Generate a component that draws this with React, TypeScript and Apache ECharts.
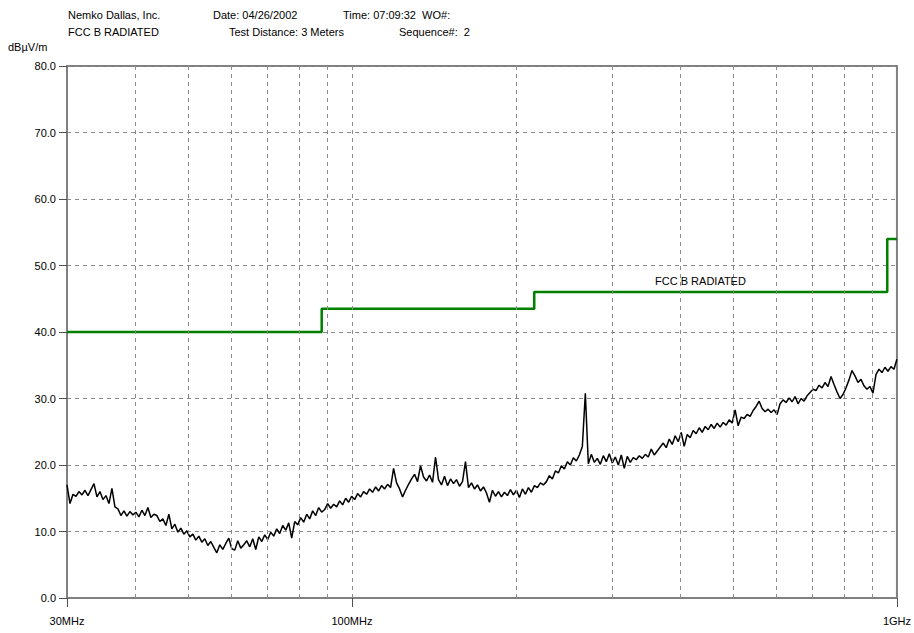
import React, { useEffect, useRef } from "react";
import * as echarts from "echarts";

// Sweep range of the receiver (MHz)
const sweepStartMHz = 30;
const sweepStopMHz = 1000;

// Measured peak levels (dBµV/m), one per sweep point, log-spaced from 30 MHz to 1 GHz
const traceLevels: number[] = [
  17.0, 14.2, 15.6, 15.3, 16.0, 15.5, 16.2, 15.4, 16.3, 17.2,
  15.2, 16.0, 14.8, 15.4, 14.2, 16.5, 13.7, 13.4, 12.4, 13.1,
  12.3, 13.0, 12.5, 12.9, 12.2, 13.2, 12.4, 13.6, 12.1, 12.6,
  12.4, 11.5, 11.9, 10.9, 12.6, 10.4, 11.1, 9.9, 10.5, 9.6,
  10.1, 9.2, 9.6, 8.7, 9.3, 8.4, 8.9, 7.9, 8.5, 7.6,
  6.8, 8.0, 7.3, 8.2, 9.0, 7.4, 7.2, 8.6, 7.5, 8.0,
  8.6, 7.7, 8.9, 7.3, 9.2, 8.5, 9.5, 8.8, 9.9, 9.3,
  10.4, 9.7, 10.9, 10.2, 11.3, 9.0, 11.5, 11.0, 12.1, 11.4,
  12.6, 11.9, 13.1, 12.4, 13.6, 12.9, 13.3, 14.2, 13.5, 14.1,
  13.7, 14.6, 14.0, 15.0, 14.4, 15.3, 14.8, 15.7, 15.2, 16.0,
  15.6, 16.4, 15.9, 16.7, 16.1, 16.9, 16.4, 17.1, 16.6, 19.5,
  17.3, 16.4, 15.2, 16.2, 17.1, 17.9, 18.6, 17.5, 19.9, 18.2,
  17.6, 18.5, 17.4, 21.2, 17.8, 17.0, 18.3, 16.9, 17.9, 17.2,
  17.8, 16.8, 17.5, 20.5, 16.6, 17.3, 16.4, 17.0, 16.1, 16.7,
  15.8, 14.4, 16.2, 15.3, 16.0, 15.2, 15.9, 15.4, 16.3, 15.5,
  16.2, 15.1, 16.4, 15.6, 16.6, 15.9, 16.9, 16.6, 17.3, 17.0,
  17.5, 18.4, 17.9, 19.1, 18.8, 19.9, 19.4, 20.5, 20.0, 21.1,
  20.6, 21.5, 22.8, 30.8, 20.2, 21.6, 20.4, 21.0, 20.1, 21.4,
  20.5, 21.7, 20.3, 21.2, 20.0, 21.5, 19.5, 21.3, 20.4, 21.1,
  20.8, 21.4, 21.0, 21.6, 21.2, 22.4, 21.5, 22.1, 22.7, 23.3,
  22.6, 23.9, 23.1, 24.4, 23.5, 24.9, 22.8, 24.6, 24.1, 25.2,
  24.7, 25.6, 24.9, 25.8, 25.3, 26.1, 25.5, 26.3, 25.7, 26.4,
  26.0, 26.8, 26.3, 28.3, 25.9, 27.2, 27.0, 27.6, 27.3, 28.2,
  28.8, 29.6, 28.5, 28.0, 28.4, 27.9, 28.3, 27.6, 29.2, 29.8,
  29.4, 30.1, 29.5, 30.3, 29.2, 30.0, 29.6, 30.4, 30.9, 31.4,
  31.2, 32.0, 31.6, 32.4, 31.8, 33.3, 32.1, 31.0, 30.0, 30.6,
  31.6, 32.8, 34.2, 33.4, 32.4, 32.9, 31.9, 31.4, 31.8, 30.8,
  33.6, 34.4, 33.9, 34.7, 34.1, 34.8, 34.4, 35.9,
];

// FCC Class B radiated limit (3 m), stepped
const limitFreqs = [30, 88, 88, 216, 216, 960, 960, 1000];
const limitLevels = [40, 40, 43.5, 43.5, 46, 46, 54, 54];
const limitName = "FCC B RADIATED";
const limitLabelAt = [436, 47.6];

// Axis ticks and grid
const xTickValues = [30, 100, 1000];
const xTickLabels = ["30MHz", "100MHz", "1GHz"];
const xGridFreqs = [40, 50, 60, 70, 80, 90, 100, 200, 300, 400, 500, 600, 700, 800, 900];
const yUnit = "dBµV/m";

// Report header
const headerLine1 = [
  { x: 68, text: "Nemko Dallas, Inc." },
  { x: 213, text: "Date: 04/26/2002" },
  { x: 343, text: "Time: 07:09:32  WO#:" },
];
const headerLine2 = [
  { x: 68, text: "FCC B RADIATED" },
  { x: 229, text: "Test Distance: 3 Meters" },
  { x: 399, text: "Sequence#:  2" },
];

const FONT = '11px "Liberation Sans", Arial, sans-serif';

export default function App() {
  const ref = useRef<HTMLDivElement>(null);

  useEffect(() => {
    if (!ref.current) return;
    const chart = echarts.init(ref.current, undefined, { renderer: "svg" });

    const n = traceLevels.length;
    const traceData = traceLevels.map((v, i) => [
      sweepStartMHz * Math.pow(sweepStopMHz / sweepStartMHz, i / (n - 1)),
      v,
    ]);
    const limitData = limitFreqs.map((f, i) => [f, limitLevels[i]]);

    const headerText = (items: { x: number; text: string }[], y: number) =>
      items.map((it) => ({
        type: "text",
        x: it.x,
        y,
        silent: true,
        style: { text: it.text, font: FONT, fill: "#000", verticalAlign: "middle" },
      }));

    chart.setOption({
      animation: false,
      backgroundColor: "#fff",
      grid: {
        left: 67,
        top: 66,
        width: 832,
        height: 532,
        show: true,
        borderColor: "#808080",
        borderWidth: 2,
        backgroundColor: "transparent",
      },
      xAxis: {
        type: "log",
        logBase: 10,
        min: sweepStartMHz,
        max: sweepStopMHz,
        axisLine: { show: true, lineStyle: { color: "#808080", width: 2 } },
        axisTick: {
          show: true,
          customValues: xTickValues,
          length: 9,
          lineStyle: { color: "#505050", width: 1 },
        },
        axisLabel: {
          customValues: xTickValues,
          margin: 17,
          color: "#000",
          fontSize: 11,
          fontFamily: '"Liberation Sans", Arial, sans-serif',
          formatter: (v: number) => {
            const k = xTickValues.findIndex((t) => Math.abs(t - v) < 1e-6 * t);
            return k >= 0 ? xTickLabels[k] : "";
          },
        },
        splitLine: { show: false },
        minorSplitLine: { show: false },
      },
      yAxis: {
        type: "value",
        min: 0,
        max: 80,
        interval: 10,
        axisLine: { show: true, lineStyle: { color: "#808080", width: 2 } },
        axisTick: { show: true, length: 8, lineStyle: { color: "#505050", width: 1 } },
        axisLabel: {
          margin: 11,
          color: "#000",
          fontSize: 11,
          fontFamily: '"Liberation Sans", Arial, sans-serif',
          formatter: (v: number) => v.toFixed(1),
        },
        splitLine: {
          show: true,
          lineStyle: { color: "#8a8a8a", width: 1, type: [4, 4] },
        },
      },
      graphic: [
        ...headerText(headerLine1, 15),
        ...headerText(headerLine2, 32),
        {
          type: "text",
          x: 8,
          y: 47,
          silent: true,
          style: { text: yUnit, font: FONT, fill: "#000", verticalAlign: "middle" },
        },
      ],
      series: [
        {
          name: "grid",
          type: "line",
          data: [],
          silent: true,
          markLine: {
            silent: true,
            symbol: ["none", "none"],
            label: { show: false },
            lineStyle: { color: "#8a8a8a", width: 1, type: [4, 4] },
            data: xGridFreqs.map((f) => ({ xAxis: f })),
          },
        },
        {
          name: limitName,
          type: "line",
          data: limitData,
          symbol: "none",
          lineStyle: { color: "#008000", width: 2.5 },
          z: 3,
          markPoint: {
            symbol: "circle",
            symbolSize: 0,
            silent: true,
            label: {
              show: true,
              position: "inside",
              formatter: limitName,
              color: "#000",
              fontSize: 11,
              fontFamily: '"Liberation Sans", Arial, sans-serif',
            },
            data: [{ coord: limitLabelAt }],
          },
        },
        {
          name: "Peak",
          type: "line",
          data: traceData,
          symbol: "none",
          lineStyle: { color: "#000", width: 1.5 },
          z: 4,
        },
      ],
    });

    return () => chart.dispose();
  }, []);

  return (
    <div
      ref={ref}
      style={{ position: "fixed", left: 0, top: 0, width: 914, height: 633 }}
    />
  );
}
